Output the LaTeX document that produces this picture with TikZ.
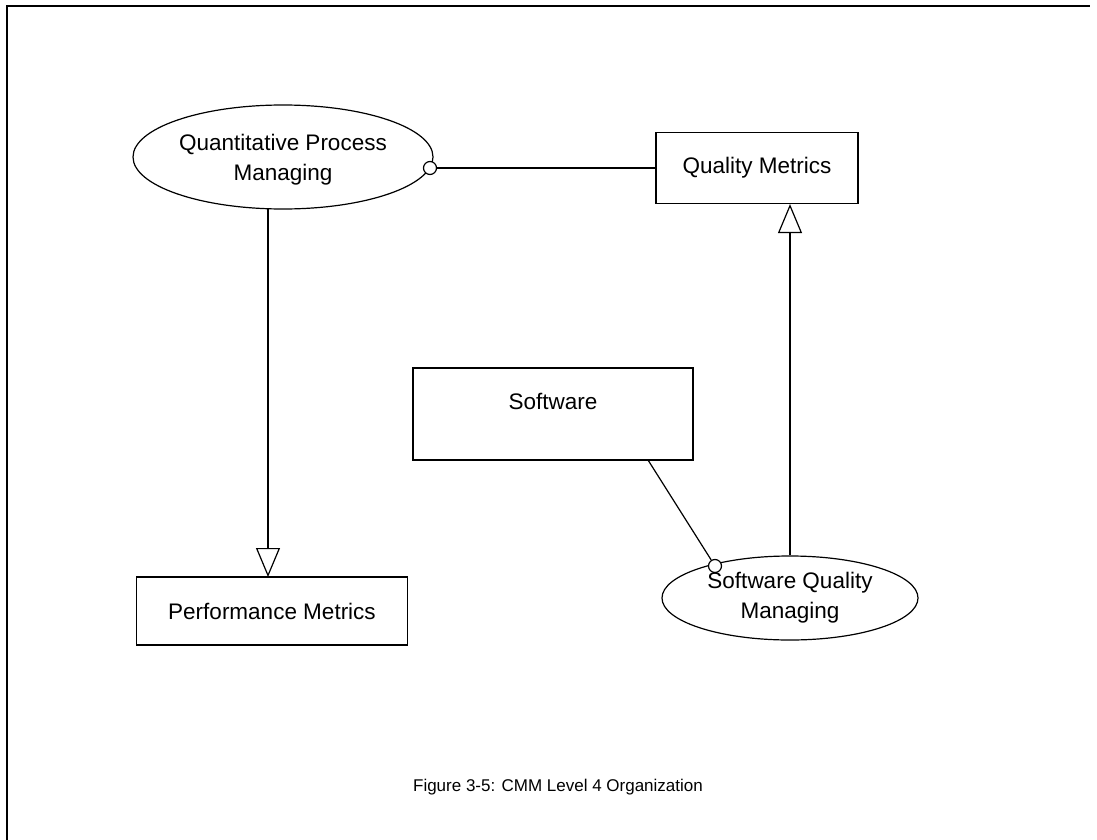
\documentclass[tikz,border=0pt]{standalone}
\usepackage{fontspec}
\setmainfont{Liberation Sans}
\usetikzlibrary{shapes.geometric,arrows.meta}
\begin{document}
\begin{tikzpicture}[x=1pt,y=-1pt,
  lbl/.style={font=\fontsize{22.5}{30}\selectfont, align=center},
  box/.style={draw, line width=1.2pt, inner sep=0pt},
  ell/.style={draw, ellipse, line width=1.2pt, inner sep=0pt},
  conn/.style={line width=1.2pt},
  gen/.style={line width=1.2pt, -{Triangle[open, width=24pt, length=29pt, line width=1.2pt]}},
  knob/.style={circle, draw, line width=1.2pt, minimum size=13pt, inner sep=0pt, fill=white}]
\useasboundingbox (0,0) rectangle (1097,840);
\draw[line width=1.5pt] (7,840) -- (7,6) -- (1090,6);
\node[ell, minimum width=300pt, minimum height=104pt] (qpm) at (283,157) {};
\node[lbl] at (283,160) {Quantitative Process\\Managing};
\node[box, minimum width=202pt, minimum height=71pt] (qm) at (757,168) {};
\node[lbl] at (757,168) {Quality Metrics};
\node[box, minimum width=280pt, minimum height=92pt] (sw) at (553,414) {};
\node[lbl] at (553,401) {Software};
\node[box, minimum width=271pt, minimum height=68pt] (pm) at (272,611) {};
\node[lbl] at (272,611) {Performance Metrics};
\node[ell, minimum width=256pt, minimum height=84pt] (sqm) at (790,598) {};
\node[lbl] at (790,598) {Software Quality\\Managing};
\coordinate (qpmb) at (268,209);
\coordinate (pmt) at (268,577);
\draw[gen] (qpmb) -- (pmt);
\draw[gen] (sqm.north) -- (qm.south -| sqm.north);
\node[knob] (k1) at (430,168) {};
\draw[conn] (k1) -- (qm.west |- k1);
\coordinate (swb) at (648,460);
\node[knob] (k2) at (715,566) {};
\draw[conn] (swb) -- (k2);
\node[font=\fontsize{17}{20}\selectfont] (cap) at (558,787) {Figure 3-5: CMM Level 4 Organization};
\end{tikzpicture}
\end{document}
